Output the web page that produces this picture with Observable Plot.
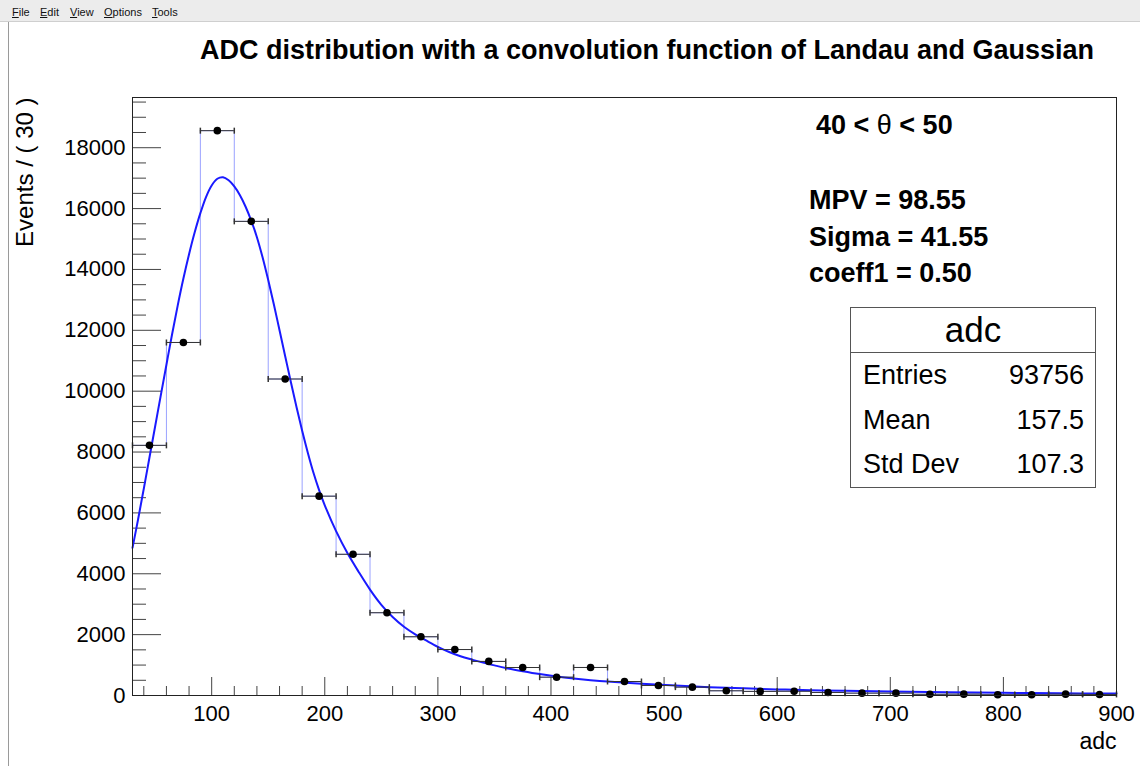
<!DOCTYPE html>
<html><head><meta charset="utf-8">
<script src="https://cdn.jsdelivr.net/npm/d3@7"></script>
<script src="https://cdn.jsdelivr.net/npm/@observablehq/plot@0.6"></script>
<style>
html,body{margin:0;padding:0;background:#fff;width:1140px;height:766px;overflow:hidden;font-family:"Liberation Sans",Arial,Helvetica,sans-serif;}
#menu{position:absolute;left:0;top:0;width:1140px;height:22px;background:#ececec;border-bottom:1px solid #cfcfcf;box-sizing:border-box;}
#edge{position:absolute;left:8px;top:22px;width:1px;height:744px;background:#9a9a9a;}
#chart{position:absolute;left:0;top:22px;}
.lbl{position:absolute;white-space:nowrap;line-height:1;color:#000;}
#stats{position:absolute;left:850px;top:307px;width:246px;height:181px;border:1px solid #555;box-sizing:border-box;background:#fff;}
#statsSep{position:absolute;left:850px;top:352px;width:246px;height:1px;background:#555;}
</style></head><body>
<div id="menu"></div>
<div id="edge"></div>
<div id="chart"></div>
<script>
// ---------- data ----------
const menuItems = ["File", "Edit", "View", "Options", "Tools"];
const menuX = [12, 40, 70, 104, 152];
const titleText = "ADC distribution with a convolution function of Landau and Gaussian";
const yLabel = "Events / ( 30 )";
const xLabel = "adc";
const binCenters = [45, 75, 105, 135, 165, 195, 225, 255, 285, 315, 345, 375, 405, 435, 465,
                    495, 525, 555, 585, 615, 645, 675, 705, 735, 765, 795, 825, 855, 885];
const binWidth = 30;
const counts = [8220, 11600, 18560, 15580, 10400, 6550, 4640, 2720, 1930, 1510, 1120, 920, 602, 921, 460,
                330, 275, 155, 135, 140, 100, 78, 78, 40, 45, 25, 25, 45, 35];
const fitX = [30, 35, 40, 45, 50, 55, 60, 65, 70, 75, 80, 85, 90, 95, 100, 105, 110, 115, 120, 125, 130,
              135, 140, 145, 150, 155, 160, 165, 170, 175, 180, 185, 190, 195, 200, 210, 220, 230, 240,
              250, 260, 270, 280, 290, 300, 310, 320, 330, 340, 350, 360, 375, 390, 405, 420, 435, 450,
              480, 510, 540, 570, 600, 630, 660, 700, 750, 800, 850, 900];
const fitY = [4850, 5800, 6800, 7820, 8840, 9860, 10870, 11870, 12820, 13700, 14500, 15220, 15850, 16380,
              16760, 16980, 17030, 16930, 16730, 16440, 16060, 15600, 15060, 14400, 13650, 12850, 12000,
              11150, 10300, 9480, 8700, 7980, 7320, 6750, 6250, 5400, 4680, 4060, 3480, 2980, 2580, 2260,
              2010, 1800, 1600, 1430, 1290, 1180, 1080, 990, 905, 800, 705, 625, 560, 505, 458, 385, 325,
              275, 235, 200, 175, 152, 128, 105, 88, 73, 62];
const xTicks = [100, 200, 300, 400, 500, 600, 700, 800, 900];
const yTicks = [0, 2000, 4000, 6000, 8000, 10000, 12000, 14000, 16000, 18000];
const cutLabel = ["40 < ", "θ", " < 50"];
const fitLines = ["MPV = 98.55", "Sigma = 41.55", "coeff1 = 0.50"];
const statsName = "adc";
const statsKeys = ["Entries", "Mean", "Std Dev"];
const statsVals = ["93756", "157.5", "107.3"];

// ---------- helpers ----------
const FONT = '"Liberation Sans", Arial, Helvetica, sans-serif';
function place(html, x, baseline, size, weight = "normal", anchor = "start") {
  const d = document.createElement("div");
  d.className = "lbl";
  d.innerHTML = html;
  d.style.fontSize = size + "px";
  d.style.fontWeight = weight;
  d.style.left = x + "px";
  d.style.top = (baseline - 0.8465 * size) + "px";
  if (anchor === "middle") d.style.transform = "translateX(-50%)";
  if (anchor === "end") d.style.transform = "translateX(-100%)";
  document.body.appendChild(d);
  return d;
}

// menu bar
const menu = document.getElementById("menu");
menuItems.forEach((m, i) => {
  const s = document.createElement("span");
  s.innerHTML = "<u>" + m[0] + "</u>" + m.slice(1);
  s.style.cssText = `position:absolute;left:${menuX[i]}px;top:7px;font-size:11px;line-height:1;color:#111;font-family:${FONT}`;
  menu.appendChild(s);
});

// ---------- chart ----------
const W = 1140, H = 744, mL = 132, mR = 24, mT = 75, mB = 71;
const fw = W - mL - mR, fh = H - mT - mB;
const bins = binCenters.map((c, i) => ({c, lo: c - binWidth / 2, hi: c + binWidth / 2, n: counts[i]}));
const steps = bins.map(b => ({x: b.lo, y: b.n}))
  .concat([{x: bins[bins.length - 1].hi, y: counts[counts.length - 1]}]);
const fit = fitX.map((x, i) => ({x, y: fitY[i]}));
const yMinor = d3.range(0, 19651, 500).filter(v => v % 2000 !== 0);
const xMinor = d3.range(40, 901, 20).filter(v => v % 100 !== 0);
const capSymbol = {draw(ctx) { ctx.moveTo(0, -3); ctx.lineTo(0, 3); }};

const chart = Plot.plot({
  width: W, height: H,
  marginLeft: mL, marginRight: mR, marginTop: mT, marginBottom: mB,
  style: {fontFamily: FONT, fontSize: "22px", background: "transparent", overflow: "visible", color: "#000"},
  x: {domain: [30, 900]},
  y: {domain: [0, 19650]},
  marks: [
    Plot.tickY(yMinor, {insetRight: fw - 14, stroke: "#444"}),
    Plot.tickY(yTicks, {insetRight: fw - 29, stroke: "#444"}),
    Plot.tickX(xMinor, {insetTop: fh - 9, stroke: "#444"}),
    Plot.tickX(xTicks, {insetTop: fh - 18, stroke: "#444"}),
    Plot.axisX(xTicks, {tickSize: 0, tickPadding: 10, fontSize: 22, label: null, tickFormat: "d"}),
    Plot.axisY(yTicks, {tickSize: 0, tickPadding: 7, fontSize: 22, label: null, tickFormat: "d"}),
    Plot.line(steps, {x: "x", y: "y", curve: "step-after", stroke: "#2030ff", strokeOpacity: 0.45, strokeWidth: 1}),
    Plot.line(fit, {x: "x", y: "y", curve: "catmull-rom", stroke: "#1a1aff", strokeWidth: 2}),
    Plot.ruleY(bins, {x1: "lo", x2: "hi", y: "n", stroke: "#333", strokeWidth: 1}),
    Plot.dot(bins, {x: "lo", y: "n", symbol: capSymbol, r: 3, stroke: "#333", fill: "none"}),
    Plot.dot(bins, {x: "hi", y: "n", symbol: capSymbol, r: 3, stroke: "#333", fill: "none"}),
    Plot.dot(bins, {x: "c", y: "n", r: 3.8, fill: "#000", stroke: "none"}),
    Plot.frame({stroke: "#222"}),
    Plot.text([yLabel], {frameAnchor: "top-left", text: d => d, rotate: -90, textAnchor: "end",
      lineAnchor: "bottom", dx: -100, dy: 0, fontSize: 24, fill: "#000"}),
    Plot.text([xLabel], {frameAnchor: "bottom-right", text: d => d, textAnchor: "end",
      lineAnchor: "bottom", dy: 53, fontSize: 23, fill: "#000"})
  ]
});
document.getElementById("chart").appendChild(chart);

// ---------- title & annotations ----------
place(titleText, 647, 60, 27, "bold", "middle");
place(cutLabel[0] + '<span style="font-weight:normal">' + cutLabel[1] + '</span>' + cutLabel[2], 816, 135, 27, "bold");
fitLines.forEach((t, i) => place(t, 809, 210 + i * 36.6, 27, "bold"));

// ---------- stats box ----------
const st = document.createElement("div"); st.id = "stats"; document.body.appendChild(st);
const sep = document.createElement("div"); sep.id = "statsSep"; document.body.appendChild(sep);
place(statsName, 973, 342, 35, "normal", "middle");
statsKeys.forEach((k, i) => {
  const b = [385, 430, 473.5][i];
  place(k, 863, b, 27);
  place(statsVals[i], 1084, b, 27, "normal", "end");
});
</script>
</body></html>
